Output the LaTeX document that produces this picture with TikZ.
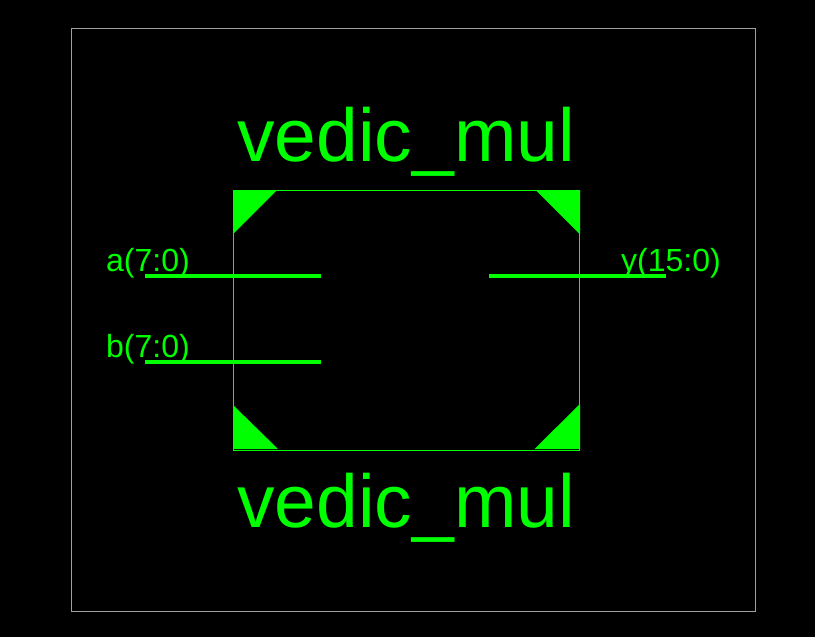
\documentclass[tikz,border=0pt]{standalone}
\usepackage{fontspec}
\setmainfont{Liberation Sans}
\usepackage{xcolor}
\usetikzlibrary{calc}
\definecolor{bg}{HTML}{000000}
\definecolor{sig}{HTML}{00FF00}
\definecolor{frame}{HTML}{A0A0A0}
\tikzset{
  outer/.style={draw=frame, line width=1pt, inner sep=0pt, minimum width=684pt, minimum height=583pt},
  cell/.style={draw=sig, line width=1pt, inner sep=0pt, minimum width=346pt, minimum height=260pt},
  wire/.style={draw=sig, line width=4pt},
  corner/.style={fill=sig},
  title/.style={text=sig, anchor=base, inner sep=0pt, font=\fontsize{75}{75}\selectfont},
  pin/.style={text=sig, anchor=base west, inner sep=0pt, font=\fontsize{32}{32}\selectfont},
}
\begin{document}
\begin{tikzpicture}[x=1pt,y=-1pt]
  \fill[bg] (0,0) rectangle (815,637);
  \useasboundingbox (0,0) rectangle (815,637);

  \node[outer] (frame) at (413.5,320) {};
  \node[cell] (box) at (406.5,320.5) {};

  \node[title] (top) at (406.2,161.5) {vedic\_mul};
  \node[title] (bot) at (406.2,527.5) {vedic\_mul};

  % corner marks
  \fill[corner] (233,190) -- (277,190) -- (233,234) -- cycle;
  \fill[corner] (535.5,190) -- (580,190) -- (580,234.5) -- cycle;
  \fill[corner] (233,405) -- (278,449) -- (233,449) -- cycle;
  \fill[corner] (580,404) -- (580,449) -- (534.5,449) -- cycle;

  % pins
  \coordinate (a0) at (145,276);
  \coordinate (a1) at (321,276);
  \coordinate (b0) at (145,362);
  \coordinate (b1) at (321,362);
  \coordinate (y0) at (489,276);
  \coordinate (y1) at (666,276);
  \draw[wire] (a0) -- (a1);
  \draw[wire] (b0) -- (b1);
  \draw[wire] (y0) -- (y1);

  \node[pin] (alab) at (106,271) {a(7:0)};
  \node[pin] (blab) at (106,357) {b(7:0)};
  \node[pin] (ylab) at (621,271) {y(15:0)};
\end{tikzpicture}
\end{document}
